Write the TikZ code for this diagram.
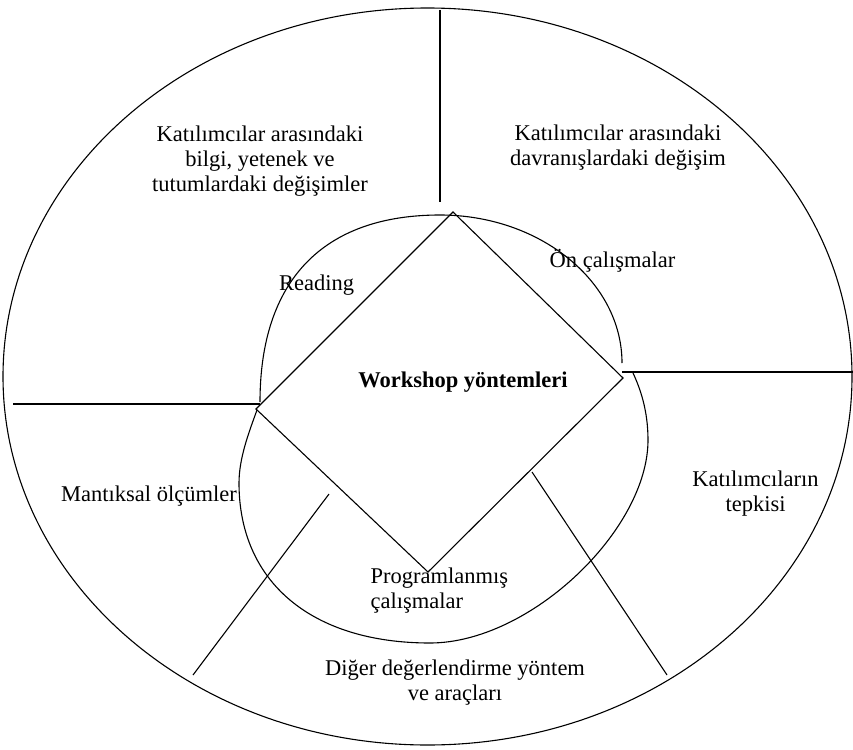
\documentclass[tikz,border=0pt]{standalone}
\usepackage{fontspec}
\setmainfont{Liberation Serif}
\begin{document}
\begin{tikzpicture}[x=1pt,y=-1pt,
  line width=1.1pt,
  % multi-line nodes sit on the baseline of their last line
  txt/.style={font=\fontsize{22.5}{25}\selectfont, inner sep=0pt, align=center, anchor=base},
  txtl/.style={font=\fontsize{22.5}{25}\selectfont, inner sep=0pt, align=left, anchor=base west},
  divider/.style={line width=1.1pt}]
\useasboundingbox (0,0) rectangle (853,749);

% outer ellipse
\draw (427.5,376.5) ellipse [x radius=424.5, y radius=368.5];

% upper inner arc
\coordinate (uL) at (260,402);
\coordinate (uT) at (440,215);
\coordinate (uR) at (622,363);
\draw (uL) .. controls (260,280.5) and (323,215) .. (uT)
           .. controls (540,215) and (622,281.6) .. (uR);

% lower inner arc
\coordinate (lS) at (257,410);
\coordinate (lW) at (239,483);
\coordinate (lB) at (430,643);
\coordinate (lE) at (648,440);
\coordinate (lF) at (633,373);
\draw (lS) .. controls (249,432) and (239,458) .. (lW)
           .. controls (239,582) and (311.6,643) .. (lB)
           .. controls (530,643) and (648,530) .. (lE)
           .. controls (648,410) and (640,388) .. (lF);

% central diamond
\coordinate (dT) at (453,212);
\coordinate (dR) at (623,378);
\coordinate (dB) at (428,572);
\coordinate (dL) at (256,409);
\draw (dT) -- (dR) -- (dB) -- (dL) -- cycle;

% dividing lines
\coordinate (vA) at (440,10);   \coordinate (vB) at (440,202);
\coordinate (hlA) at (13,404);  \coordinate (hlB) at (260,404);
\coordinate (hrA) at (622,372); \coordinate (hrB) at (853,372);
\coordinate (llA) at (329,494); \coordinate (llB) at (193,675);
\coordinate (lrA) at (532,472); \coordinate (lrB) at (667,675);
\draw[divider] (vA) -- (vB);
\draw[divider] (hlA) -- (hlB);
\draw[divider] (hrA) -- (hrB);
\draw[divider] (llA) -- (llB);
\draw[divider] (lrA) -- (lrB);

% labels
\node[txt] (bilgi) at (260,191) {Katılımcılar arasındaki\\bilgi, yetenek ve\\tutumlardaki değişimler};
\node[txt] (davranis) at (618,165) {Katılımcılar arasındaki\\davranışlardaki değişim};
\node[txt] (reading) at (316.5,290) {Reading};
\node[txt] (on) at (612.5,267) {Ön çalışmalar};
\node[txt, font=\fontsize{22.5}{25}\selectfont\bfseries] (ws) at (463,387) {Workshop yöntemleri};
\node[txt] (mantik) at (149,501.5) {Mantıksal ölçümler};
\node[txt] (tepki) at (755.5,511) {Katılımcıların\\tepkisi};
\node[txtl] (prog) at (370,608) {Programlanmış\\çalışmalar};
\node[txt] (diger) at (455,700) {Diğer değerlendirme yöntem\\ve araçları};
\end{tikzpicture}
\end{document}
